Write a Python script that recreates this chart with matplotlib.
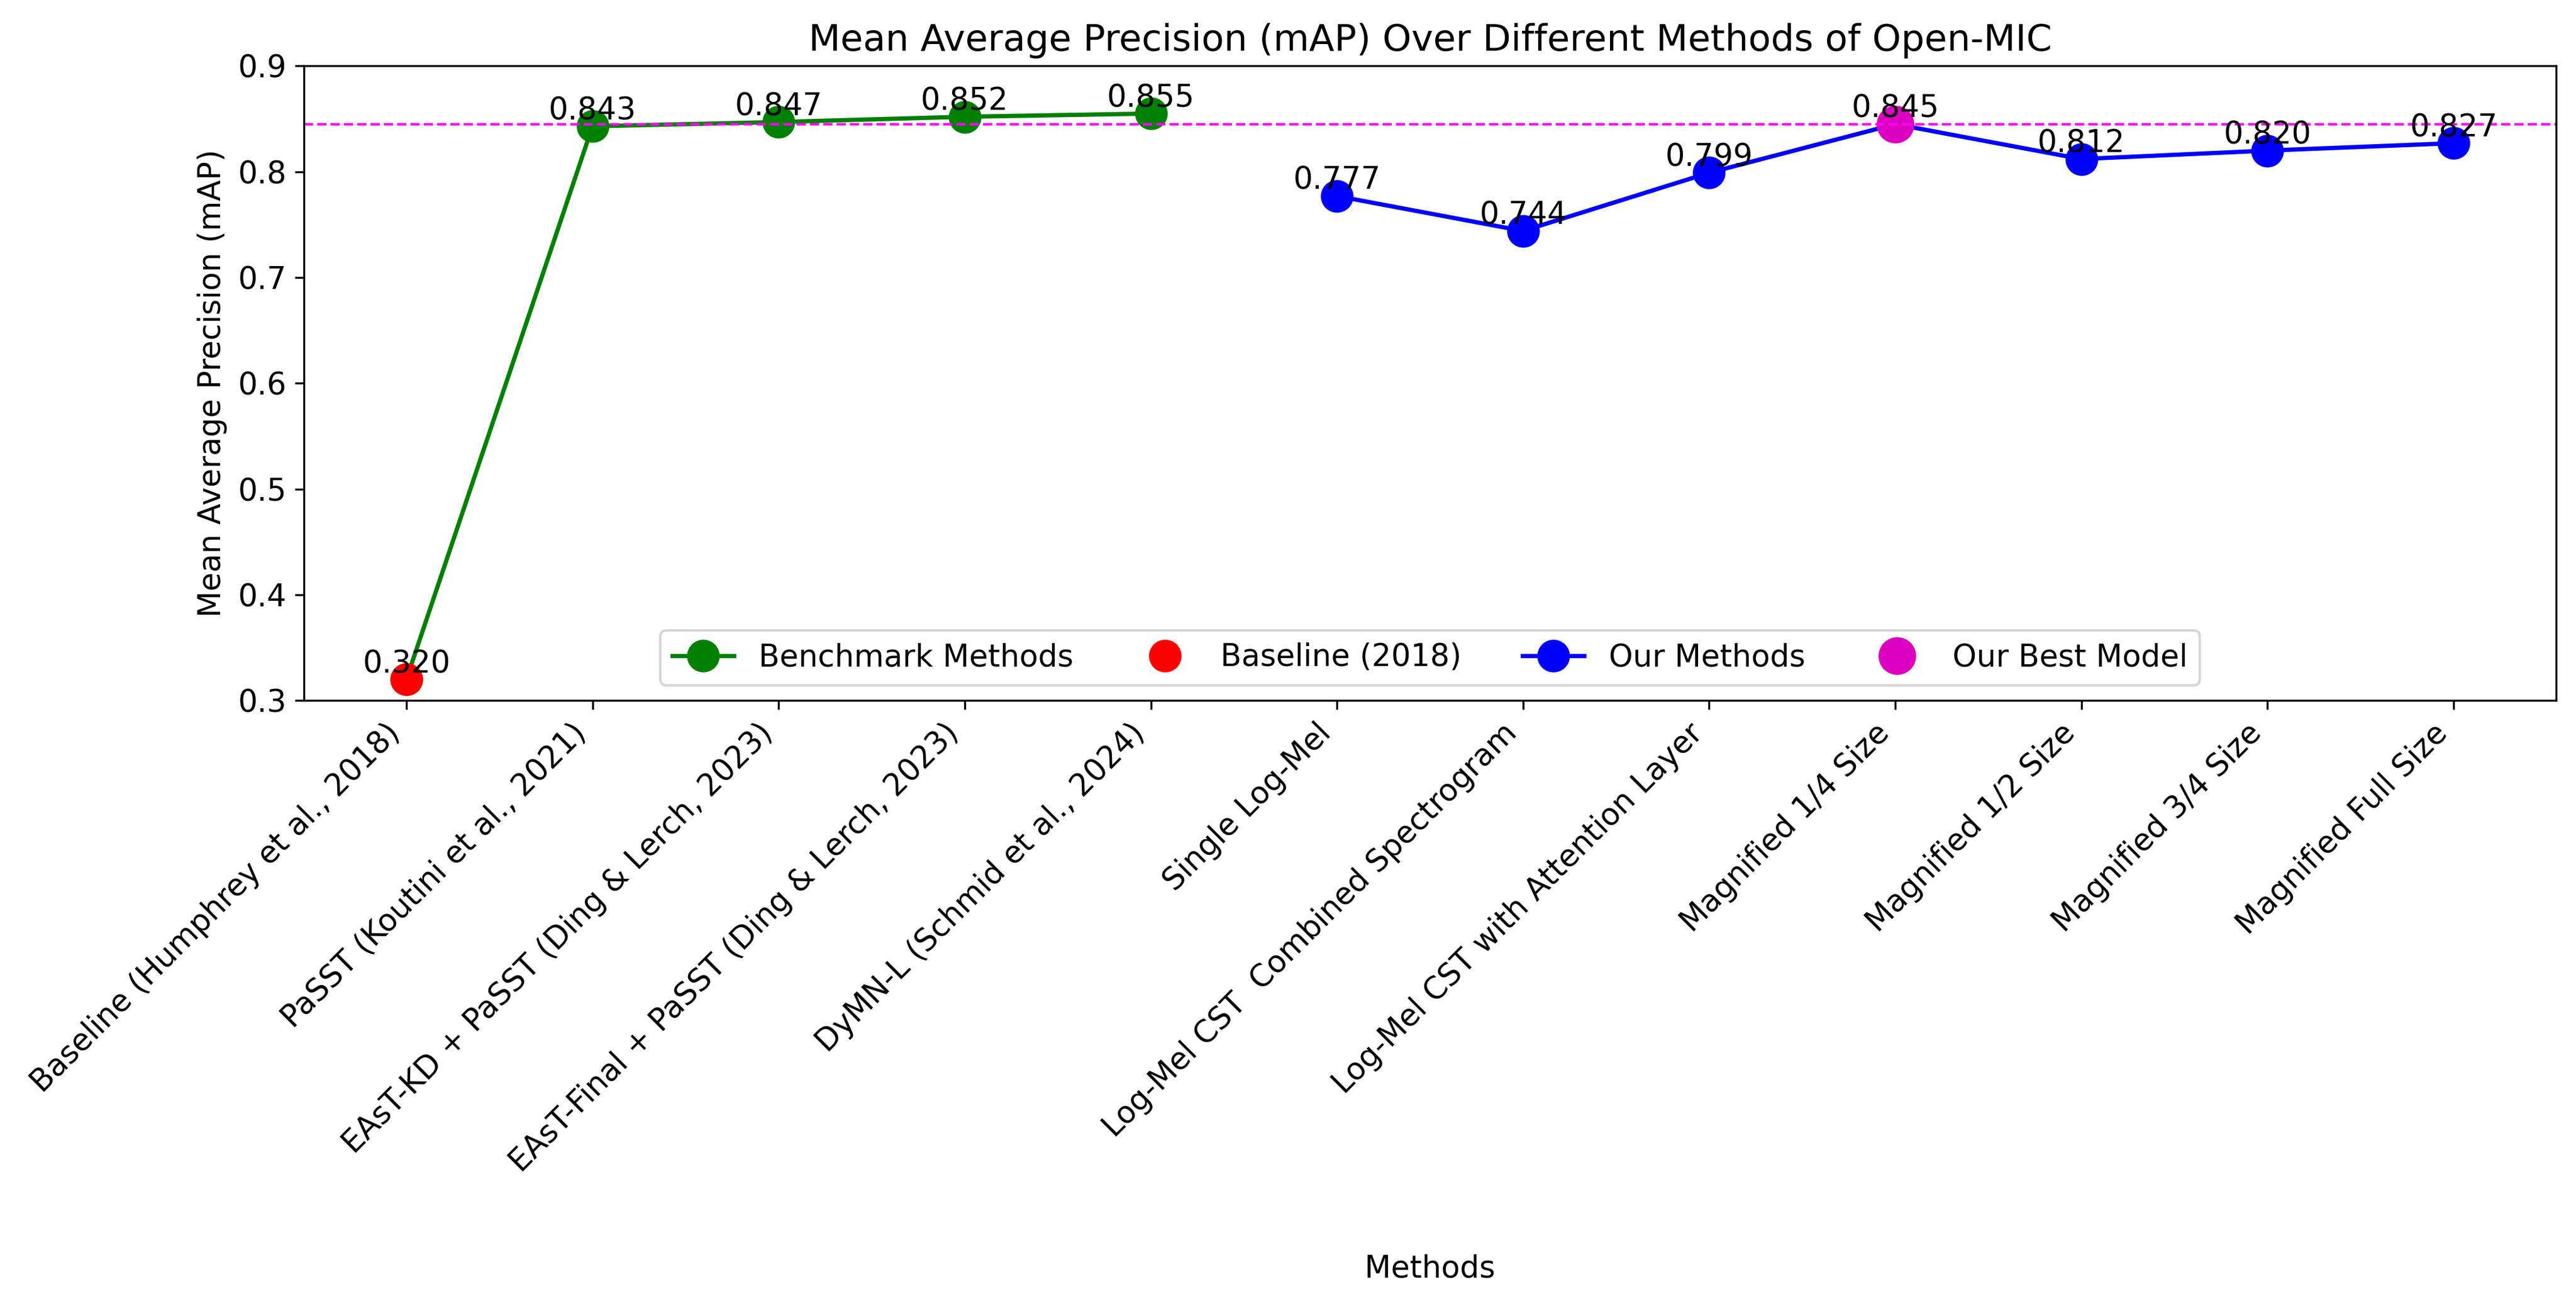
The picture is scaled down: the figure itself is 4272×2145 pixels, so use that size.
import matplotlib
matplotlib.use('Agg')
import matplotlib.pyplot as plt
import numpy as np

methods = [
    'Baseline (Humphrey et al., 2018)',
    'PaSST (Koutini et al., 2021)',
    'EAsT-KD + PaSST (Ding & Lerch, 2023)',
    'EAsT-Final + PaSST (Ding & Lerch, 2023)',
    'DyMN-L (Schmid et al., 2024)',
    'Single Log-Mel',
    'Log-Mel CST  Combined Spectrogram',
    'Log-Mel CST with Attention Layer',
    'Magnified 1/4 Size',
    'Magnified 1/2 Size',
    'Magnified 3/4 Size',
    'Magnified Full Size',
]
map_scores = [0.320, 0.843, 0.847, 0.852, 0.855,
              0.777, 0.744, 0.799, 0.845, 0.812, 0.820, 0.827]

benchmark_idx = [0, 1, 2, 3, 4]
baseline_idx = [0]
ours_idx = [5, 6, 7, 8, 9, 10, 11]
best_idx = 8

plt.rcParams['font.size'] = 12.2

x = np.arange(len(methods))
y = np.array(map_scores)

fig, ax = plt.subplots(figsize=(14.243, 7.15))

# benchmark line (includes the baseline point), then the markers on top
ax.plot(x[benchmark_idx], y[benchmark_idx], marker='o', color='green', markersize=12,
        linewidth=1.7, label='Benchmark Methods')
ax.plot(x[baseline_idx], y[baseline_idx], 'o', color='red', markersize=12, label='Baseline (2018)')
ax.plot(x[ours_idx], y[ours_idx], marker='o', color='blue', markersize=12,
        linewidth=1.7, label='Our Methods')
ax.plot(x[best_idx], y[best_idx], 'o', color='#DC00C0', markersize=14, label='Our Best Model')

ax.axhline(y[best_idx], color='magenta', linestyle='--', linewidth=1)

for i, v in enumerate(map_scores):
    ax.text(x[i], v, f'{v:.3f}', ha='center', va='bottom')

ax.set_xticks(x)
ax.set_xticklabels(methods, rotation=45, ha='right')
ax.set_ylim(0.3, 0.9)
ax.set_xlabel('Methods', labelpad=30)
ax.set_ylabel('Mean Average Precision (mAP)')
ax.set_title('Mean Average Precision (mAP) Over Different Methods of Open-MIC')
ax.legend(loc='lower center', ncol=4)

plt.subplots_adjust(left=0.118, right=0.992, bottom=0.4587, top=0.949)
plt.savefig('out.png', dpi=300)
